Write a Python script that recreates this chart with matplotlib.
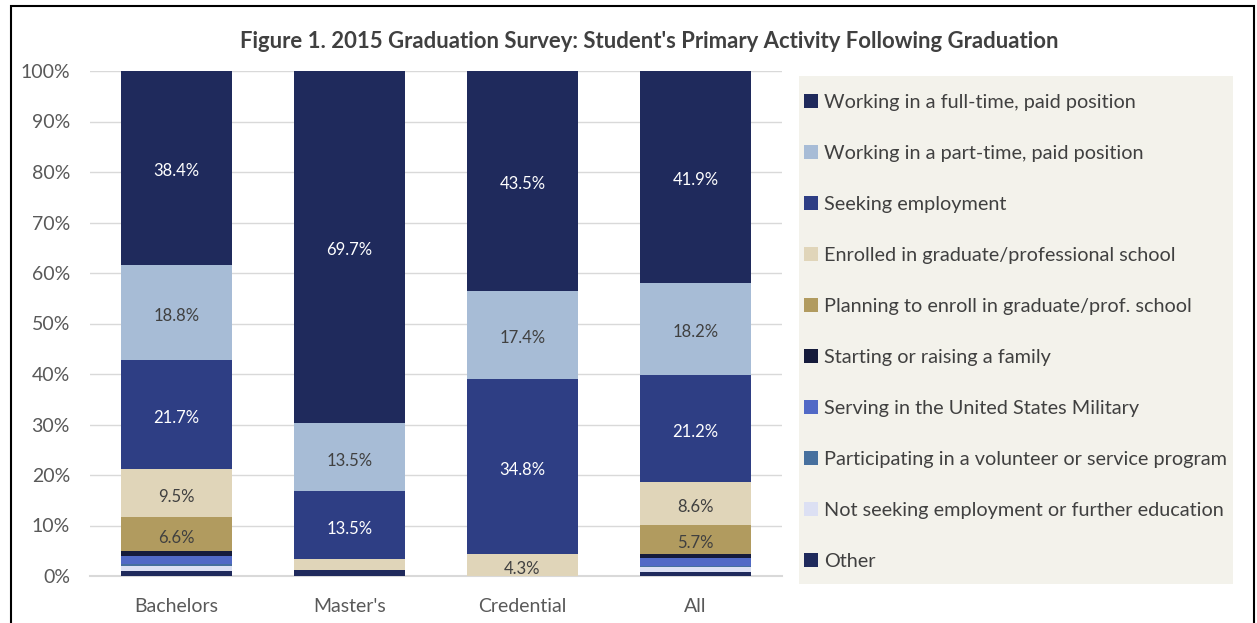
import matplotlib
matplotlib.use("Agg")
import matplotlib.pyplot as plt
from matplotlib.patches import Patch, Rectangle
import numpy as np

plt.rcParams['font.family'] = ['Lato', 'DejaVu Sans']

categories = ["Bachelors", "Master's", "Credential", "All"]

series_names = [
    "Working in a full-time, paid position",
    "Working in a part-time, paid position",
    "Seeking employment",
    "Enrolled in graduate/professional school",
    "Planning to enroll in graduate/prof. school",
    "Starting or raising a family",
    "Serving in the United States Military",
    "Participating in a volunteer or service program",
    "Not seeking employment or further education",
    "Other",
]

full_time   = [38.4, 69.7, 43.5, 41.9]
part_time   = [18.8, 13.5, 17.4, 18.2]
seeking     = [21.7, 13.5, 34.8, 21.2]
enrolled    = [9.5, 2.2, 4.3, 8.6]
planning    = [6.6, 0.0, 0.0, 5.7]
family      = [1.0, 0.0, 0.0, 0.8]
military    = [1.7, 0.0, 0.0, 1.6]
volunteer   = [0.3, 0.0, 0.0, 0.3]
not_seeking = [1.1, 0.0, 0.0, 0.9]
other       = [0.9, 1.1, 0.0, 0.8]

colors = ["#1F2A5C", "#A7BCD6", "#2E3E84", "#E0D5B9", "#B19B5F",
          "#151B3B", "#5169C6", "#47709E", "#DCE0F3", "#1F2A5C"]
label_colors = ["white", "#404040", "white", "#404040", "#404040",
                "white", "white", "white", "#404040", "white"]

series = [full_time, part_time, seeking, enrolled, planning,
          family, military, volunteer, not_seeking, other]

fig = plt.figure(figsize=(12.57, 6.23), dpi=100)
ax = fig.add_axes([90/1257, 47/623, (782-90)/1257, (576-71)/623])

x = np.arange(len(categories))
width = 0.645
bottom = np.zeros(len(categories))
# stack from bottom (Other) to top (full-time)
order = list(range(len(series)))[::-1]
for i in order:
    vals = np.array(series[i], dtype=float)
    ax.bar(x, vals, width, bottom=bottom, color=colors[i], linewidth=0, zorder=3)
    for xi, v, bt in zip(x, vals, bottom):
        if v >= 4.0:
            ax.annotate(f"{v:.1f}%", xy=(xi, bt + v / 2), xytext=(0, -2.5),
                        textcoords="offset points", ha="center", va="center",
                        color=label_colors[i], fontsize=12, zorder=4)
    bottom += vals

ax.set_xlim(-0.5, 3.5)
ax.set_ylim(0, 100)
ax.set_yticks(np.arange(0, 101, 10))
ax.set_yticklabels([f"{v}%" for v in range(0, 101, 10)])
ax.set_xticks(x)
ax.set_xticklabels(categories)
ax.tick_params(axis='both', length=0, colors="#595959", labelsize=14)
ax.tick_params(axis='y', pad=14.4)
ax.tick_params(axis='x', pad=15.5)
ax.grid(axis='y', color="#D9D9D9", linewidth=1, zorder=0)
for s in ["top", "right", "left"]:
    ax.spines[s].set_visible(False)
ax.spines["bottom"].set_color("#D9D9D9")
ax.spines["bottom"].set_linewidth(1.5)

# legend background
fig.patches.append(Rectangle((799/1257, 1 - 584/623), (1233-799)/1257, (584-76)/623,
                             transform=fig.transFigure, facecolor="#F3F2EB",
                             edgecolor="none", zorder=0))
handles = [Patch(facecolor=c, edgecolor="none") for c in colors]
leg = fig.legend(handles, series_names, loc="upper left",
                 bbox_to_anchor=(804/1257, 1 - 94/623), frameon=False,
                 fontsize=14.3, labelcolor="#404040", handlelength=0.7,
                 handleheight=0.7, handletextpad=0.3, labelspacing=1.71,
                 borderpad=0, borderaxespad=0)

fig.text(649/1257, 1 - 42/623,
         "Figure 1. 2015 Graduation Survey: Student's Primary Activity Following Graduation",
         ha="center", va="center", fontsize=15.9, fontweight="bold", color="#404040")

# outer border
fig.patches.append(Rectangle((11/1257, -0.05), (1254-11)/1257, 1.05 - 6/623,
                             transform=fig.transFigure, facecolor="none",
                             edgecolor="black", linewidth=1.5, zorder=10))

fig.savefig("out.png", dpi=100)
